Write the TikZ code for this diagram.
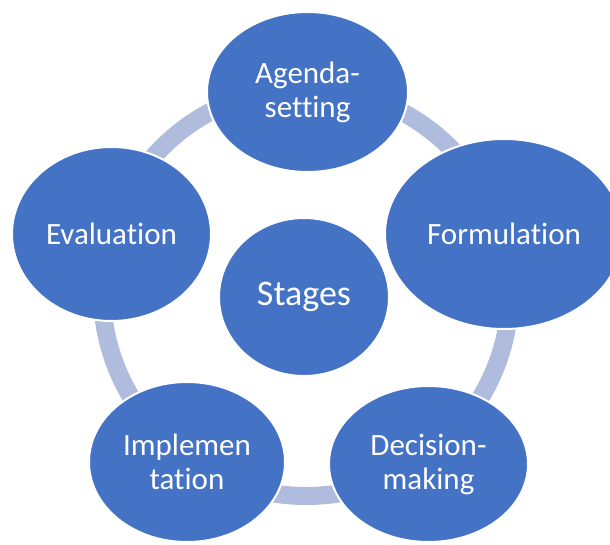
\documentclass[tikz,border=0pt]{standalone}
\usepackage{fontspec}
\setmainfont{Carlito}[Ligatures={NoCommon,NoRare,NoContextual}]
\definecolor{nodeblue}{HTML}{4472C4}
\definecolor{ringblue}{HTML}{AFBCDD}
\begin{document}
\begin{tikzpicture}[x=1pt,y=-1pt,
  stage/.style={ellipse, fill=nodeblue, draw=white, line width=2pt, inner sep=0pt,
    text=white, align=center, font=\fontsize{31}{34}\selectfont}]
\usetikzlibrary{shapes.geometric}
\useasboundingbox (0,0) rectangle (610,544);
\clip (0,0) rectangle (610,544);
\fill[white] (0,0) rectangle (610,544);
\draw[ringblue, line width=18pt] (306,292) circle[radius=204];
\node[stage, minimum width=201pt, minimum height=160pt] (agenda) at (307.5,92) {Agenda-\\setting};
\node[stage, minimum width=238pt, minimum height=190pt] (form) at (504,234) {Formulation};
\node[stage, minimum width=199pt, minimum height=156pt] (dec) at (428.5,464) {Decision-\\making};
\node[stage, minimum width=196pt, minimum height=160pt] (impl) at (187,462) {Implemen\\tation};
\node[stage, minimum width=199pt, minimum height=174pt] (eval) at (111.5,234) {Evaluation};
\node[stage, minimum width=170pt, minimum height=158pt, font=\fontsize{36}{40}\selectfont] (stages) at (304,297) {Stages};
\end{tikzpicture}
\end{document}
